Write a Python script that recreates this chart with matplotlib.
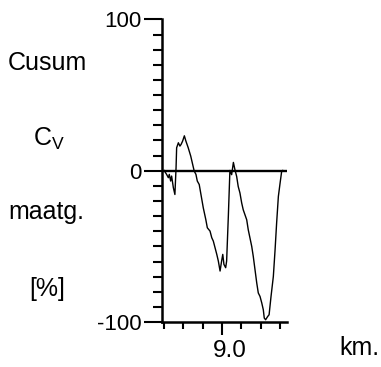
import matplotlib
matplotlib.use("Agg")
import matplotlib.pyplot as plt
import matplotlib.transforms as mtransforms

plt.rcParams["font.family"] = ["Liberation Sans", "DejaVu Sans"]

# Cusum trace (km, %)
km = [8.700, 8.713, 8.722, 8.727, 8.734, 8.739, 8.748, 8.756, 8.762, 8.765,
      8.774, 8.782, 8.788, 8.796, 8.805, 8.813, 8.825, 8.838, 8.848, 8.856,
      8.865, 8.872, 8.882, 8.891, 8.903, 8.916, 8.924, 8.938, 8.947, 8.955,
      8.964, 8.973, 8.981, 8.990, 8.998, 9.004, 9.010, 9.019, 9.024, 9.033,
      9.041, 9.050, 9.059, 9.067, 9.076, 9.084, 9.093, 9.102, 9.110, 9.119,
      9.128, 9.136, 9.145, 9.154, 9.162, 9.171, 9.180, 9.188, 9.197, 9.206,
      9.214, 9.219, 9.226, 9.237, 9.244, 9.254, 9.266, 9.275, 9.283, 9.292,
      9.301, 9.309, 9.315]
cusum = [0.2, -2.4, -4.6, -2.4, -6.8, -3.5, -11.2, -15.7, 2.0, 15.2,
         18.5, 16.3, 17.4, 19.6, 23.1, 19.6, 15.2, 9.7, 4.2, -0.2,
         -2.4, -6.8, -9.1, -15.7, -24.5, -32.2, -37.7, -39.9, -44.3, -46.5,
         -50.9, -55.3, -59.7, -66.3, -59.7, -55.3, -61.9, -64.1, -59.7, -29.5,
         0.2, -2.6, 5.5, 0.7, -3.8, -10.4, -14.7, -21.3, -25.8, -29.1,
         -32.4, -39.0, -44.5, -50.0, -56.6, -65.4, -74.2, -80.8, -83.1, -87.4,
         -91.9, -97.4, -98.5, -96.3, -95.2, -83.1, -69.9, -52.2, -34.6, -17.0,
         -8.1, -0.5, 0.2]

x_minor = [8.7, 8.8, 8.9, 9.1, 9.2, 9.3]
x_major = [9.0]
x_major_labels = ["9.0"]
y_minor = [-90, -80, -70, -60, -50, -40, -30, -20, -10,
           10, 20, 30, 40, 50, 60, 70, 80, 90]
y_major = [-100, 0, 100]
y_major_labels = ["-100", "0", "100"]

fig = plt.figure(figsize=(3.81, 3.67), dpi=100)
ax = fig.add_axes([0.4244, 0.1226, 0.3289, 0.8243])

ax.plot(km, cusum, color="black", linewidth=1.0)
ax.axhline(0, color="black", linewidth=1.7)

ax.set_xlim(8.6876, 9.3368)
ax.set_ylim(-100, 100)

for side in ["top", "right"]:
    ax.spines[side].set_visible(False)
for side in ["left", "bottom"]:
    ax.spines[side].set_linewidth(1.8)

ax.set_xticks(x_major)
ax.set_xticklabels(x_major_labels, fontsize=17.5)
ax.set_xticks(x_minor, minor=True)
ax.set_yticks(y_major)
ax.set_yticklabels(y_major_labels, fontsize=16)
ax.set_yticks(y_minor, minor=True)

ax.tick_params(axis="x", which="major", length=9.5, width=1.5, pad=3.5)
ax.tick_params(axis="x", which="minor", length=5, width=1.5)
ax.tick_params(axis="y", which="major", length=13, width=1.5, pad=1.5)
ax.tick_params(axis="y", which="minor", length=6.5, width=1.5)

# the 9.0 label sits a little right of its tick
offset = mtransforms.ScaledTranslation(8 / 100, 0, fig.dpi_scale_trans)
for lbl in ax.get_xticklabels():
    lbl.set_transform(lbl.get_transform() + offset)

fig.text(0.021, 0.8093, "Cusum", fontsize=18, va="baseline", ha="left")
fig.text(0.0866, 0.6022, r"$\mathregular{C_V}$", fontsize=18, va="baseline", ha="left")
fig.text(0.021, 0.4033, "maatg.", fontsize=18, va="baseline", ha="left")
fig.text(0.0761, 0.1935, "[%]", fontsize=18, va="baseline", ha="left")
fig.text(0.8898, 0.0327, "km.", fontsize=18, va="baseline", ha="left")

fig.savefig("out.png", dpi=100)
